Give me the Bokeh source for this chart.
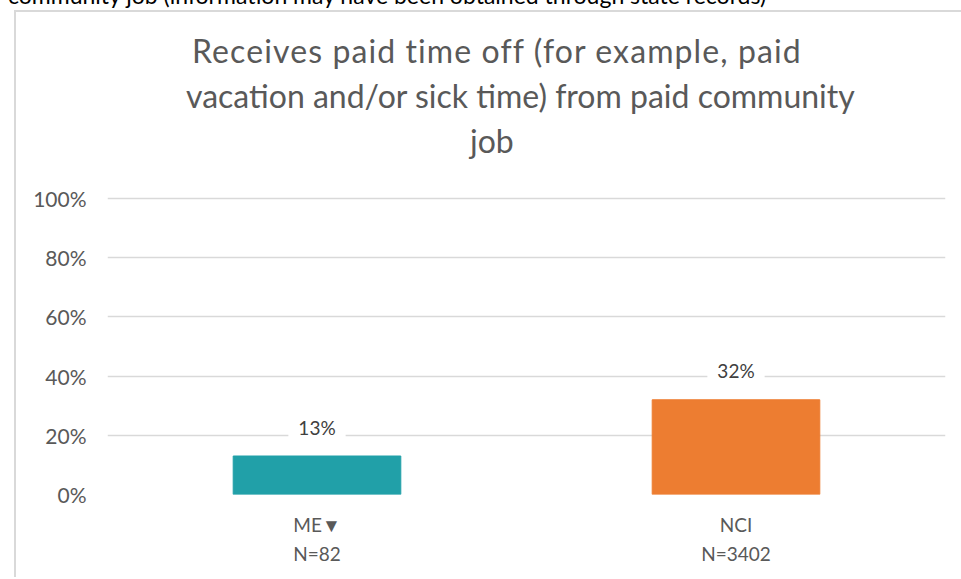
from bokeh.plotting import figure
from bokeh.models import (ColumnDataSource, FactorRange, Range1d, NumeralTickFormatter,
                          Div, FixedTicker)
from bokeh.layouts import column
from bokeh.core.properties import value
from bokeh.embed import file_html
from bokeh.resources import INLINE

# ---- data ----
categories = ["ME", "NCI"]
cat_markers = ["\u25BC", ""]
sample_sizes = ["N=82", "N=3402"]
values = [0.13, 0.32]
bar_colors = ["#21A0A8", "#ED7D31"]
y_ticks = [0, 0.2, 0.4, 0.6, 0.8, 1.0]
title_lines = ["Receives paid time off (for example, paid",
               "vacation and/or sick time) from paid community",
               "job"]
header_text = "community job (information may have been obtained through state records)"

FONT = "Lato"
GRAY = "#595959"
BORDER = "2px solid #D9D9D9"

factors = [f"{c}{m}\n{n}" for c, m, n in zip(categories, cat_markers, sample_sizes)]

# ---- title block (HTML) ----
title_pos = [(176, 20.6, 1.1), (170, 65.6, 0), (454, 110.6, 0)]   # left, top, letter-spacing (styling)
title_html = ('<div style="position:relative;width:945px;height:150px;'
              f'font-family:{FONT};font-size:32px;color:{GRAY};line-height:36px;white-space:nowrap">')
for line, (lx, ty, ls) in zip(title_lines, title_pos):
    title_html += (f'<div style="position:absolute;left:{lx}px;top:{ty}px;'
                   f'letter-spacing:{ls}px">{line}</div>')
title_html += '</div>'
title_div = Div(text=title_html, width=945, height=150, margin=0)

# ---- chart ----
W, H = 945, 415
p = figure(width=W, height=H,
           x_range=FactorRange(*factors), y_range=Range1d(0, 1.01),
           output_backend="svg", toolbar_location=None,
           min_border_left=91, min_border_right=16,
           min_border_top=33, min_border_bottom=83,
           margin=0)
p.title.visible = False
p.outline_line_color = None
p.background_fill_color = "white"
p.border_fill_color = "white"

src = ColumnDataSource(dict(
    cat=factors,
    val=values,
    color=bar_colors,
    label=[f"{round(v * 100)}%" for v in values],
))
p.vbar(x="cat", top="val", width=0.4, color="color", source=src)

p.text(x="cat", y="val", text="label", source=src,
       y_offset=-29, text_align="center", text_baseline="middle",
       text_font=value(FONT), text_font_size="19px", text_color="#404040",
       background_fill_color="white", padding=10)

# axes
p.yaxis.ticker = FixedTicker(ticks=y_ticks)
p.yaxis.formatter = NumeralTickFormatter(format="0%")
p.yaxis.axis_line_color = None
p.yaxis.major_tick_line_color = None
p.yaxis.minor_tick_line_color = None
p.yaxis.major_label_standoff = 15
p.yaxis.major_label_text_font = FONT
p.yaxis.major_label_text_font_size = "21px"
p.yaxis.major_label_text_color = GRAY

p.xaxis.axis_line_color = None
p.xaxis.major_tick_line_color = None
p.xaxis.major_label_standoff = 12
p.xaxis.major_label_text_font = FONT
p.xaxis.major_label_text_font_size = "19px"
p.xaxis.major_label_text_color = GRAY
p.xaxis.major_label_text_line_height = 1.27

p.xgrid.grid_line_color = None
p.ygrid.grid_line_color = "#D9D9D9"
p.ygrid.grid_line_width = 1.5

chart_box = column(title_div, p, spacing=0, margin=(5, 0, 0, 14),
                   styles={"border-left": BORDER, "border-top": BORDER})

header = Div(text=header_text, width=900, height=20, margin=(-15, 0, 0, 8),
             styles={"font-family": FONT, "font-size": "23px", "color": "black",
                     "line-height": "20px", "white-space": "nowrap"})

layout = column(header, chart_box, spacing=0)
open("out.html", "w").write(file_html(layout, INLINE))
